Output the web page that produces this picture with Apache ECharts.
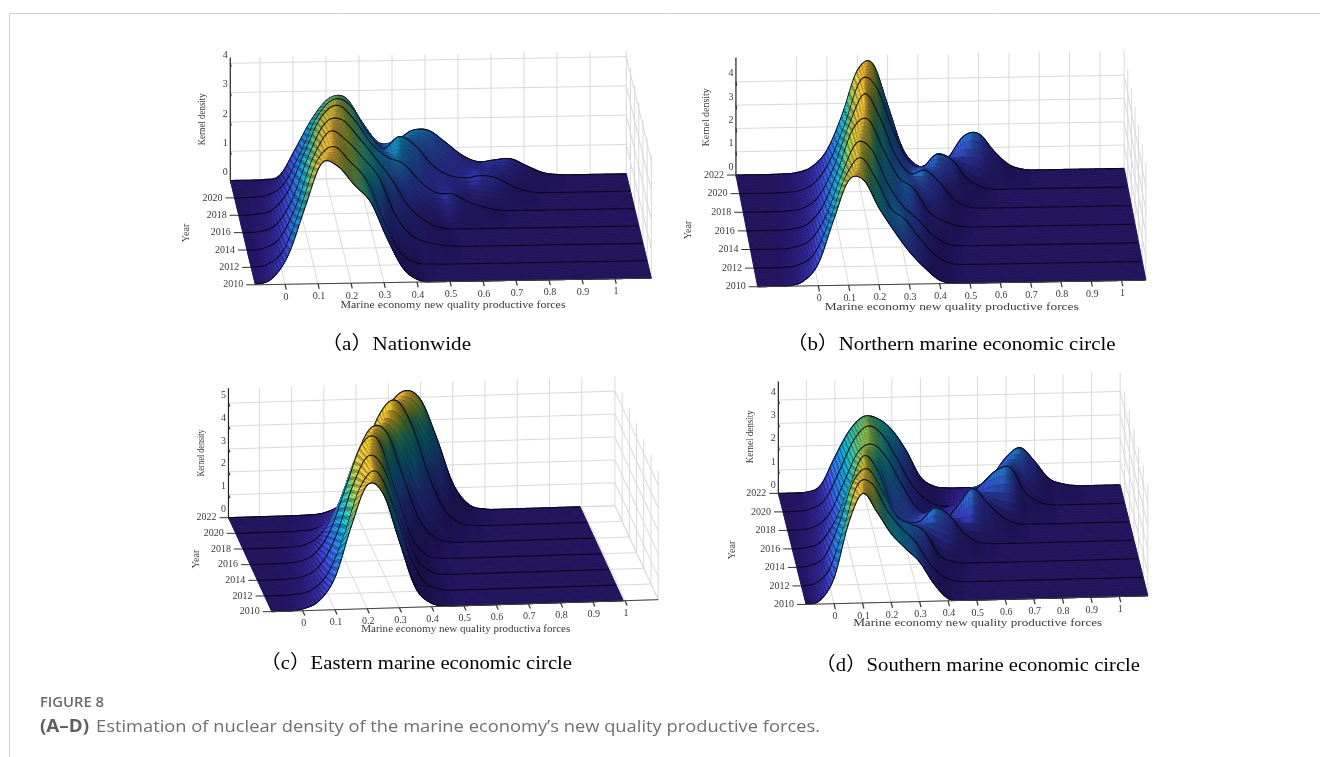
<!DOCTYPE html>
<html><head><meta charset="utf-8">
<style>html,body{margin:0;padding:0;background:#fff}#c{width:1320px;height:757px;filter:blur(.45px)}</style>
<script src="https://cdn.jsdelivr.net/npm/echarts@6/dist/echarts.min.js"></script>
</head><body><div id="c"></div>
<script>
// ---- axis tick values ----
const xTicks = [0,0.1,0.2,0.3,0.4,0.5,0.6,0.7,0.8,0.9,1];
const xTickLabels = ['0','0.1','0.2','0.3','0.4','0.5','0.6','0.7','0.8','0.9','1'];
const years = [2010,2012,2014,2016,2018,2020,2022];
const xLabel = 'Marine economy new quality productive forces';
const xLabelC = 'Marine economy new quality productiva forces';
// ---- kernel density, step 0.05 in x; every curve is 0 past its last value ----
// (a) Nationwide, first value at x=-0.09
const a2010=[.02,.2,1.0,2.6,4.1,4.0,3.35,2.75,1.5,.45,.05];
const a2012=[.01,.1,.6,2.0,3.6,4.08,3.55,2.9,1.55,.45,.07,.01];
const a2014=[0,.05,.4,1.5,3.1,4.0,3.7,3.1,2.4,1.1,.4,.15,.05];
const a2016=[0,.03,.25,1.1,2.6,3.7,3.8,3.2,2.5,1.75,.85,.32,.05];
const a2018=[0,.02,.15,.8,2.1,3.3,3.7,3.2,2.4,1.9,1.66,1.05,.65,.6,.3,.12,.01];
const a2020=[0,.01,.08,.45,1.5,2.7,3.3,3.1,2.2,1.6,2.0,1.65,1.0,.65,.55,.62,.5,.2,.03];
const a2022=[0,0,.01,.15,1.1,2.1,2.75,2.75,1.9,1.2,1.25,1.6,1.6,1.2,.75,.5,.55,.58,.32,.08,.01];
// (b) Northern, first value at x=-0.20
const b2010=[0,0,.02,.2,.95,2.8,4.5,4.5,3.3,2.3,1.4,.7,.15,.01];
const b2012=[0,0,.01,.12,.6,2.0,3.8,4.67,3.8,2.5,1.95,1.1,.4,.06];
const b2014=[0,0,0,.08,.4,1.4,3.1,4.5,4.2,2.8,1.8,1.2,.5,.1];
const b2016=[0,0,0,.05,.25,1,2.5,4.3,4.7,3.4,2.2,1.7,.7,.28,.05];
const b2018=[0,0,0,.03,.15,.65,1.9,3.7,5.0,4.0,2.4,1.55,1.67,1.1,.35,.05];
const b2020=[0,0,0,.02,.1,.45,1.4,3.0,4.8,4.5,2.8,1.4,1.0,1.55,1.3,.5,.1];
const b2022=[0,0,0,.01,.06,.3,1.0,2.5,4.4,4.7,2.9,1.0,.25,.15,.6,1.5,1.6,.85,.25,.03];
// (c) Eastern, first value at x=-0.10
const c2010=[0,0,.08,.4,1.4,3.6,5.4,5.0,2.9,.85,.15,.02];
const c2012=[0,0,.03,.2,.9,2.5,4.6,5.3,3.9,1.7,.4,.05];
const c2014=[0,0,.02,.12,.6,1.9,4.0,5.3,4.6,2.3,.7,.1,.01];
const c2016=[0,0,.01,.06,.35,1.3,3.2,5.1,5.3,3.2,1.1,.2,.02];
const c2018=[0,0,0,.02,.12,.6,1.8,3.7,5.1,4.9,3.0,1.1,.25,.03];
const c2020=[0,0,0,0,.02,.1,.45,1.4,3.2,5.0,5.6,4.5,2.4,.8,.15,.02];
const c2022=[0,0,0,0,0,.01,.08,.4,1.2,2.8,4.6,5.3,4.9,3.2,1.2,.25,.03];
// (d) Southern, first value at x=-0.10
const d2010=[.02,.15,1.1,3.4,4.7,3.9,2.95,2.3,1.7,.75,.1];
const d2012=[.01,.1,.7,2.4,4.3,4.3,3.2,2.4,1.8,.85,.25,.03];
const d2014=[0,.07,.45,1.8,3.6,4.15,3.2,2.1,1.75,1.4,.4,.08];
const d2016=[0,.04,.25,1.1,2.5,3.9,3.3,1.6,1.05,1.05,1.6,1.3,.55,.12,.02];
const d2018=[0,.02,.15,.7,2.0,3.3,3.6,3.0,1.9,.9,.3,.25,.9,1.6,1.0,.4,.08];
const d2020=[0,.01,.1,.5,1.7,3.0,3.59,3.2,2.2,1.1,.4,.1,.1,.45,1.0,1.55,1.65,.6,.15,.01];
const d2022=[0,0,.02,.3,1.5,2.6,3.2,3.1,2.6,1.7,.55,.13,.05,.05,.08,.5,1.3,1.7,1.1,.35,.1,.01];

// ---- view of each panel (layout only) ----
const panels = [
 {curves:[a2010,a2012,a2014,a2016,a2018,a2020,a2022],x0:-.09,ox:285,oy:284.3,ux:330,tilt:-5.6,tx:-25,ty:-104.3,uz:29.3,
  xMin:-.09,xMax:1.11,boxMax:1.11,zTop:4.2,zTicks:[0,1,2,3,4],zn:4.7,yearLabels:[2010,2012,2014,2016,2018,2020],
  xl:[453,305,225],yr:[186.7,233],kd:[202.7,119.3,52],cap:['（a）Nationwide',396,345,150],xText:xLabel},
 {curves:[b2010,b2012,b2014,b2016,b2018,b2020,b2022],x0:-.2,ox:818.3,oy:285.7,ux:303.3,tilt:-5.2,tx:-21.7,ty:-111.7,uz:23.3,
  xMin:-.2,xMax:1.08,boxMax:1.08,zTop:5.05,zTicks:[0,1,2,3,4],zn:5.6,yearLabels:years,
  xl:[951.7,307.7,254],yr:[688,230],kd:[706,117.3,58],cap:['（b）Northern marine economic circle',951,345,329],xText:xLabel},
 {curves:[c2010,c2012,c2014,c2016,c2018,c2020,c2022],x0:-.1,ox:302.7,oy:610.7,ux:322.3,tilt:-10,tx:-43.3,ty:-94,uz:22.9,
  xMin:-.096,xMax:.995,boxMax:1.103,zTop:5.65,zTicks:[0,1,2,3,4,5],zn:5.9,yearLabels:years,
  xl:[465.7,629.3,209],yr:[196.7,559],kd:[201.7,453,47],cap:['（c）Eastern marine economic circle',416,664,312],xText:xLabelC},
 {curves:[d2010,d2012,d2014,d2016,d2018,d2020,d2022],x0:-.1,ox:834,oy:603.7,ux:285.3,tilt:-7.2,tx:-27.7,ty:-111,uz:23.33,
  xMin:-.098,xMax:1.10,boxMax:1.10,zTop:4.8,zTicks:[0,1,2,3,4],zn:5.2,yearLabels:years,
  xl:[977.7,623.3,249],yr:[732.7,550],kd:[750.7,436.7,53],cap:['（d）Southern marine economic circle',977.5,666,325],xText:xLabel}
];

const parula=[[.2422,.1504,.6603],[.2810,.3228,.9579],[.1786,.5289,.9682],[.0689,.6948,.8394],[.2161,.7843,.5923],[.6720,.7793,.2227],[.9970,.7659,.2199],[.9769,.9839,.0805]];
function shade(u,b){u=Math.max(0,Math.min(.999,u))*(parula.length-1);const i=Math.floor(u),f=u-i;
 const c=[0,1,2].map(k=>Math.round(255*Math.min(1,(parula[i][k]*(1-f)+parula[i+1][k]*f)*b)));return 'rgb('+c.join(',')+')';}

// smooth drawing of a curve between the values read (Catmull-Rom through the points)
function curveAt(arr,x0,x){const p=(x-x0)/.05,i=Math.floor(p),f=p-i,g=k=>k<0?0:(arr[k]||0);
 const a=g(i-1),b=g(i),c=g(i+1),d=g(i+2);
 return Math.max(0,.5*(2*b+(c-a)*f+(2*a-5*b+4*c-d)*f*f+(3*b-a-3*c+d)*f*f*f));}

const measureCtx=document.createElement('canvas').getContext('2d');
function fit(text,font,target){measureCtx.font=font;return target/measureCtx.measureText(text).width;}
const SERIF='"Liberation Serif","Noto Sans CJK SC",serif';

const DX=.00417, SUB=6, GW=480, GH=240;
function makeSeries(p,idx){
 const nx=Math.round((p.xMax-p.xMin)/DX), xsF=[];
 for(let i=0;i<=nx;i++)xsF.push(p.xMin+(p.xMax-p.xMin)*i/nx);
 const fine=p.curves.map(c=>xsF.map(x=>curveAt(c,p.x0,x)));
 const zAt=(row)=>{const k=row/SUB,i=Math.min(Math.floor(k),fine.length-2),f=k-i;return fine[i].map((v,j)=>v*(1-f)+fine[i+1][j]*f);};
 const total=(years.length-1)*SUB;
 const rows=[];
 rows.push([0,0]);                                   // box behind the surface
 for(let r=total;r>0;r--){
   rows.push([1,r]);
   if(r%SUB===0) rows.push([2,r]);                   // year curve, over the strip just in front of it
 }
 rows.push([2,0]);
 rows.push([3,0]);                                   // axis in front
 const tOf=r=>r/total;
 return {type:'custom',coordinateSystem:'cartesian2d',xAxisIndex:idx,yAxisIndex:idx,silent:true,clip:false,animation:false,
  progressive:0,data:rows,
  renderItem(params,api){
   const P=(x,t,z)=>api.coord([x+t*p.tx/p.ux, z+(-p.ty*t-p.tilt*x)/p.uz]);
   const line=(a,b,stroke,w)=>({type:'line',shape:{x1:a[0],y1:a[1],x2:b[0],y2:b[1]},style:{stroke,lineWidth:w,fill:null}});
   const txt=(s,x,y,font,opt)=>({type:'text',x,y,rotation:(opt&&opt.rot)||0,scaleX:(opt&&opt.sx)||1,
     style:{text:s,x:0,y:0,font,fill:(opt&&opt.fill)||'#3a3a3a',align:(opt&&opt.align)||'center',verticalAlign:'middle'}});
   const kind=api.value(0), r=api.value(1), ch=[];
   if(kind===0){
     const G='#d9d9d9';
     xTicks.forEach(x=>{ ch.push(line(P(x,1,0),P(x,1,p.zTop),G,1)); ch.push(line(P(x,0,0),P(x,1,0),G,1)); });
     p.zTicks.forEach(z=>{ ch.push(line(P(p.xMin,1,z),P(p.boxMax,1,z),G,1)); ch.push(line(P(p.boxMax,1,z),P(p.boxMax,0,z),G,1)); });
     years.forEach((y,i)=>{const t=i/6; ch.push(line(P(p.xMin,t,0),P(p.boxMax,t,0),G,1)); ch.push(line(P(p.boxMax,t,0),P(p.boxMax,t,p.zTop),G,1));});
     ch.push(line(P(p.boxMax,0,0),P(p.boxMax,1,0),G,1));
   } else if(kind===1){
     const zb=zAt(r), zf=zAt(r-1), t1=tOf(r), t0=tOf(r-1);
     const flatCol=shade(0,.55);
     // whole strip underneath, so that no seam between cells shows white
     const back=[]; for(let i=0;i<=nx;i+=3)back.push(P(xsF[i],t1,zb[i]));
     back.push(P(xsF[nx],t1,zb[nx]),P(xsF[nx],t0,zf[nx]));
     for(let i=nx-(nx%3);i>=0;i-=3)back.push(P(xsF[i],t0,zf[i]));
     ch.push({type:'polygon',shape:{points:back},style:{fill:flatCol,stroke:flatCol,lineWidth:1}});
     for(let i=0;i<nx;i++){
       if(zb[i]<.004&&zf[i]<.004&&zb[i+1]<.004&&zf[i+1]<.004) continue;
       const za=(zb[i]+zf[i])/2, zc=(zb[i+1]+zf[i+1])/2, zm=(za+zc)/2;
       const s=(zc-za)/DX/36, as=Math.min(1,Math.abs(s));
       const base=.55+.22*Math.min(1,zm/3);
       let br= s>=0 ? base+.5*Math.pow(as,.5) : base*(1-.5*Math.pow(as,.6));
       const u=zm/p.zn-(s<0?.16*as:0);
       if(i%2&&s>=0) br*=1-.3*Math.min(1,as*2.5);
       const col=shade(u,br);
       ch.push({type:'polygon',shape:{points:[P(xsF[i],t1,zb[i]),P(xsF[i+1],t1,zb[i+1]),P(xsF[i+1],t0,zf[i+1]),P(xsF[i],t0,zf[i])]},
         style:{fill:col,stroke:col,lineWidth:.8}});
     }
   } else if(kind===2){
     const z=zAt(r), t=tOf(r);
     return {type:'polyline',shape:{points:xsF.filter((x,i)=>i%2===0).map((x,i)=>P(x,t,z[i*2]))},style:{fill:null,stroke:'#06061a',lineWidth:1.1,opacity:.9}};
   } else {
     const font='10px '+SERIF, A='#333333';
     ch.push(line(P(p.xMin,0,0),P(p.boxMax,0,0),'#444',1));
     ch.push(line(P(p.xMin,1,0),P(p.xMin,1,p.zTop),'#222',1.2));
     xTicks.forEach((x,i)=>{ ch.push(line(P(x,0,0),P(x,-.05,0),A,1.2));
       const q=P(x,0,0); ch.push(txt(xTickLabels[i],q[0]+1,q[1]+13,font)); });
     years.forEach((y,i)=>{ const t=i/6; if(p.yearLabels.indexOf(y)<0)return;
       const q=P(p.xMin,t,0); ch.push(line([q[0]-9,q[1]],q,A,1));
       ch.push(txt(String(y),q[0]-12,q[1],font,{align:'right'})); });
     p.zTicks.forEach(z=>{ const q=P(p.xMin,1,z); ch.push(line(q,P(p.xMin,.965,z),A,1.2));
       ch.push(txt(String(z),q[0]-5,q[1]-8,font)); });
     ch.push(txt(p.xText,p.xl[0],p.xl[1],font,{sx:fit(p.xText,font,p.xl[2])}));
     ch.push(txt('Year',p.yr[0],p.yr[1],font,{rot:Math.PI/2}));
     ch.push(txt('Kernel density',p.kd[0],p.kd[1],font,{rot:Math.PI/2,sx:fit('Kernel density',font,p.kd[2])}));
     const cf='19px '+SERIF;
     ch.push(txt(p.cap[0],p.cap[1],p.cap[2],cf,{sx:fit(p.cap[0],cf,p.cap[3]),fill:'#000'}));
   }
   return {type:'group',children:ch};
  }};
}

const grids=[],xAxes=[],yAxes=[];
panels.forEach((p,i)=>{
  const gl=p.ox-140, gt=p.oy-GH+40;
  grids.push({left:gl,top:gt,width:GW,height:GH,show:false});
  xAxes.push({type:'value',gridIndex:i,show:false,min:-140/p.ux,max:(GW-140)/p.ux});
  yAxes.push({type:'value',gridIndex:i,show:false,min:-40/p.uz,max:(GH-40)/p.uz});
});

const capText='Estimation of nuclear density of the marine economy’s new quality productive forces.';
const capFont='17px "Open Sans",sans-serif', capBold='700 17px "Open Sans",sans-serif', figFont='600 15px "Open Sans",sans-serif';
const chart=echarts.init(document.getElementById('c'),null,{renderer:'canvas',width:1320,height:757});
chart.setOption({
  animation:false,backgroundColor:'#fff',
  grid:grids,xAxis:xAxes,yAxis:yAxes,
  series:panels.map(makeSeries),
  graphic:[
    {type:'line',shape:{x1:9.5,y1:13.5,x2:1320,y2:13.5},style:{stroke:'#cfcfcf',lineWidth:1}},
    {type:'line',shape:{x1:9.5,y1:13.5,x2:9.5,y2:757},style:{stroke:'#cfcfcf',lineWidth:1}},
    {type:'text',x:40,y:703,scaleX:fit('FIGURE 8',figFont,64),style:{text:'FIGURE 8',x:0,y:0,font:figFont,fill:'#6b6b6b',verticalAlign:'middle'}},
    {type:'text',x:40,y:727,scaleX:fit('(A–D)',capBold,49),style:{text:'(A–D)',x:0,y:0,font:capBold,fill:'#5f5f5f',verticalAlign:'middle'}},
    {type:'text',x:96,y:727,scaleX:fit(capText,capFont,724),style:{text:capText,x:0,y:0,font:capFont,fill:'#707070',verticalAlign:'middle'}}
  ]
});
</script></body></html>
